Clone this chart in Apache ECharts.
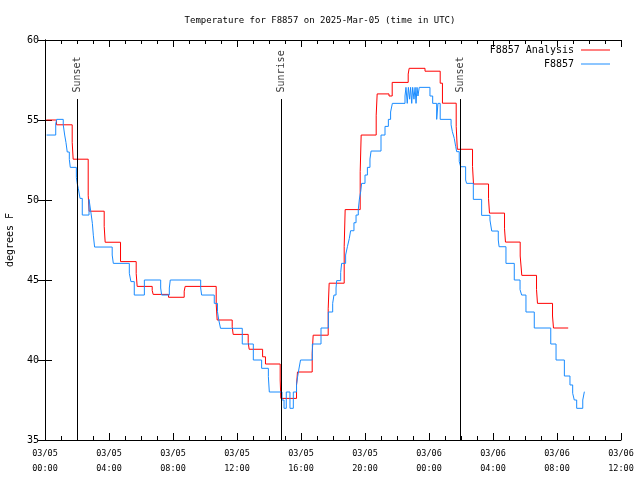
<!DOCTYPE html>
<html><head><meta charset="utf-8">
<script src="https://cdn.jsdelivr.net/npm/echarts@6/dist/echarts.min.js"></script>
<style>html,body{margin:0;padding:0;background:#fff}#c{width:640px;height:480px}</style>
</head><body><div id="c"></div>
<script>
const titleText = 'Temperature for F8857 on 2025-Mar-05 (time in UTC)';
const yAxisName = 'degrees F';
const xTickLabels = ['03/05\n00:00','03/05\n04:00','03/05\n08:00','03/05\n12:00','03/05\n16:00','03/05\n20:00','03/06\n00:00','03/06\n04:00','03/06\n08:00','03/06\n12:00'];
const seriesNames = ['F8857 Analysis','F8857'];

// hours since 03/05 00:00 UTC
const redHours = [0.08,0.72,1.70,1.76,2.70,2.76,3.70,3.76,4.72,5.70,5.76,6.70,6.76,7.72,8.70,8.76,10.70,10.76,11.70,11.76,12.70,12.76,13.60,13.78,14.70,14.74,15.72,15.78,16.70,16.76,17.70,17.76,18.70,18.76,19.70,19.76,20.70,20.76,21.50,21.70,22.70,22.76,23.75,24.70,24.84,25.70,25.77,26.72,26.78,27.72,27.78,28.72,28.78,29.70,29.80,30.72,30.78,31.72,31.78,32.70];
const redTemps = [55.0,54.7,53.6,52.55,50.3,49.3,48.35,47.36,46.15,45.4,44.6,44.35,44.1,43.92,44.3,44.6,43.5,42.5,42.08,41.6,41.1,40.67,40.2,39.75,38.75,37.6,38.4,39.25,40.4,41.55,43.2,44.8,47.1,49.4,51.77,54.06,55.3,56.63,56.5,57.35,57.87,58.23,58.05,57.3,56.05,54.6,53.17,52.1,51.0,50.1,49.18,48.2,47.37,46.5,45.29,44.4,43.54,42.75,42.0,42.0];

const blueHours = [0.10,0.67,0.73,1.14,1.23,1.31,1.39,1.52,1.58,1.96,2.02,2.08,2.19,2.33,2.75,2.83,2.90,2.96,3.02,3.10,4.20,4.27,5.27,5.37,5.58,6.21,7.23,7.29,7.77,7.83,9.73,9.79,10.58,10.78,10.86,10.97,12.33,13.02,13.54,13.96,14.02,14.81,14.94,15.08,15.31,15.52,15.72,15.79,15.88,15.97,16.71,17.25,17.71,17.98,18.06,18.19,18.23,18.48,18.54,18.79,18.90,19.02,19.10,19.31,19.44,19.58,19.65,19.73,19.79,20.00,20.15,20.31,20.38,21.00,21.25,21.46,21.60,21.71,22.50,22.56,22.64,22.71,22.79,22.85,22.92,22.98,23.06,23.13,23.19,23.25,23.31,23.39,24.06,24.23,24.48,24.56,24.70,25.38,25.46,25.58,25.67,25.73,25.89,25.98,26.29,26.35,26.77,27.29,27.81,27.92,28.33,28.38,28.81,29.33,29.69,29.79,30.06,30.58,31.61,31.94,32.46,32.81,32.98,33.08,33.23,33.61,33.71];
const blueTemps = [54.06,54.75,55.04,54.7,54.06,53.6,53.0,52.54,52.04,51.4,51.0,50.73,50.1,49.06,50.04,49.5,49.0,48.54,47.8,47.06,46.56,46.04,45.42,44.9,44.06,45.0,44.5,44.06,44.5,45.0,44.5,44.06,43.54,43.02,42.5,41.98,41.0,40.0,39.48,38.96,38.0,37.5,36.98,38.0,36.98,38.0,38.48,38.96,39.5,40.0,41.0,42.0,43.0,43.54,44.06,44.5,44.96,45.46,46.04,46.56,47.08,47.6,48.08,48.58,49.06,49.4,50.06,50.52,51.04,51.56,52.04,52.56,53.06,54.06,54.6,55.04,55.5,56.04,56.5,57.04,56.04,57.04,56.3,57.04,56.04,57.04,56.3,57.04,56.04,57.04,56.5,57.04,56.5,56.04,55.04,56.04,55.04,54.7,54.27,53.85,53.33,53.02,52.4,52.08,51.25,51.04,50.04,49.04,48.75,48.06,47.5,47.08,46.04,45.0,44.4,44.06,43.0,42.0,41.0,40.0,39.0,38.44,37.92,37.5,36.98,37.5,38.02];

const sunEventNames = ['Sunset','Sunrise','Sunset'];
const sunEventHours = [2.02,14.77,25.97];

const FONT = 'DejaVu Sans Mono';
const zip = (a,b) => a.map((v,i) => [v,b[i]]);
const lineTop = 56.31, labelBase = 56.72;

const chart = echarts.init(document.getElementById('c'), null, {renderer:'canvas'});
const xCommon = {type:'value', min:0, max:36, interval:4,
  axisLine:{show:true, lineStyle:{color:'#000', width:1}},
  axisTick:{show:true, inside:true, length:7, lineStyle:{color:'#000'}},
  minorTick:{show:true, splitNumber:4, length:4, lineStyle:{color:'#000'}},
  splitLine:{show:false}, minorSplitLine:{show:false}};
const yCommon = {type:'value', min:35, max:60, interval:5,
  axisLine:{show:true, lineStyle:{color:'#000', width:1}},
  axisTick:{show:true, inside:true, length:7, lineStyle:{color:'#000'}},
  splitLine:{show:false}};

chart.setOption({
  animation:false,
  backgroundColor:'#fff',
  title:{text:titleText, left:'center', top:11, textStyle:{fontFamily:FONT, fontSize:9, fontWeight:'normal', color:'#000'}},
  grid:{left:45, right:19, top:40, bottom:40, containLabel:false, outerBoundsMode:'none'},
  legend:{data:seriesNames, orient:'vertical', right:30, top:44, align:'right', padding:0,
    icon:'rect', itemWidth:29, itemHeight:1, itemGap:2,
    textStyle:{fontFamily:FONT, fontSize:10, color:'#000', lineHeight:12, padding:[0,2,0,0]}},
  xAxis:[
    Object.assign({}, xCommon, {position:'bottom',
      axisLabel:{show:true, margin:6, color:'#000', fontFamily:FONT, fontSize:8.5, lineHeight:15,
        formatter:v => xTickLabels[Math.round(v/4)]}}),
    Object.assign({}, xCommon, {position:'top', axisLabel:{show:false}})
  ],
  yAxis:[
    Object.assign({}, yCommon, {position:'left', name:yAxisName, nameLocation:'middle', nameGap:30,
      nameTextStyle:{fontFamily:FONT, fontSize:10, color:'#000'},
      axisLabel:{show:true, margin:6, color:'#000', fontFamily:FONT, fontSize:10}}),
    Object.assign({}, yCommon, {position:'right', axisLabel:{show:false}})
  ],
  series:[
    {name:seriesNames[0], type:'line', step:'end', symbol:'none', data:zip(redHours, redTemps),
      lineStyle:{color:'#ff0000', width:1}, itemStyle:{color:'#ff0000'}, z:2},
    {name:seriesNames[1], type:'line', step:'end', symbol:'none', data:zip(blueHours, blueTemps),
      lineStyle:{color:'#1a8cff', width:1}, itemStyle:{color:'#1a8cff'}, z:3,
      markLine:{silent:true, symbol:['none','none'], animation:false,
        lineStyle:{color:'#000', width:1, type:'solid'}, label:{show:false},
        data:sunEventHours.map(h => [{coord:[h,35]},{coord:[h,lineTop]}])}},
    {name:'sun', type:'scatter', symbolSize:0, silent:true, z:4,
      data:sunEventHours.map((h,i) => ({value:[h,labelBase], name:sunEventNames[i]})),
      label:{show:true, position:'inside', rotate:90, align:'left', verticalAlign:'middle',
        formatter:p => p.name, fontFamily:FONT, fontSize:10, color:'#000'}}
  ]
});
</script></body></html>
